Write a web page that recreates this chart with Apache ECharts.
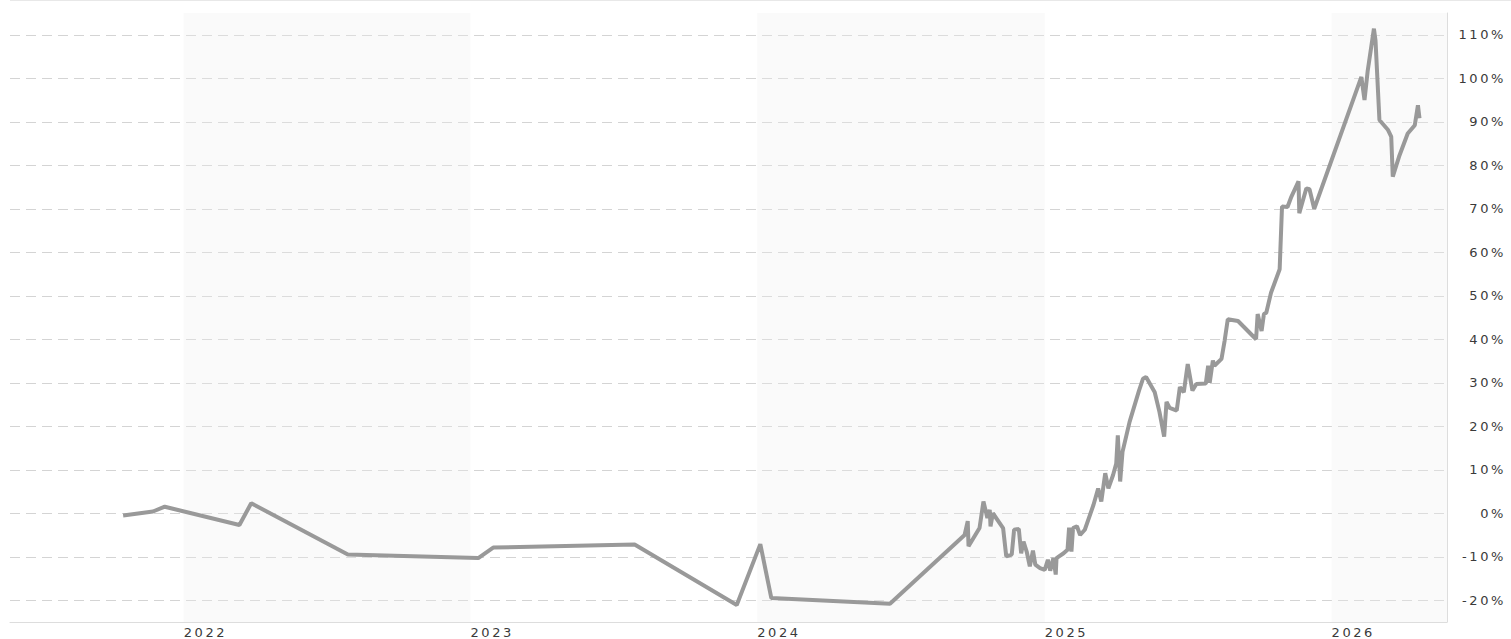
<!DOCTYPE html>
<html>
<head>
<meta charset="utf-8">
<script src="https://cdn.jsdelivr.net/npm/echarts@6.0.0/dist/echarts.min.js"></script>
<style>
    html, body { margin: 0; padding: 0; background: #fff; }
    #chartView { width: 1511px; height: 639px; }
    #chartView svg text { letter-spacing: 2.6px; }
</style>
</head>
<body>
<div id="chartView"></div>
<script>
    // 日期与涨幅(%)
    var theDates = [
        '2021-10-16', '2021-11-23', '2021-12-08', '2022-03-13', '2022-03-28', '2022-07-29',
        '2023-01-11', '2023-01-30', '2023-07-29', '2023-12-06', '2024-01-05', '2024-01-19',
        '2024-06-18', '2024-09-21', '2024-09-25', '2024-09-26', '2024-10-10', '2024-10-15',
        '2024-10-20', '2024-10-23', '2024-10-24', '2024-10-27', '2024-11-09', '2024-11-13',
        '2024-11-20', '2024-11-23', '2024-11-29', '2024-12-02', '2024-12-05', '2024-12-09',
        '2024-12-13', '2024-12-17', '2024-12-20', '2024-12-26', '2025-01-01', '2025-01-05',
        '2025-01-08', '2025-01-12', '2025-01-15', '2025-01-16', '2025-01-25', '2025-01-30',
        '2025-02-01', '2025-02-04', '2025-02-06', '2025-02-11', '2025-02-15', '2025-02-21',
        '2025-03-04', '2025-03-10', '2025-03-14', '2025-03-19', '2025-03-23', '2025-03-29',
        '2025-04-02', '2025-04-04', '2025-04-07', '2025-04-10', '2025-04-19', '2025-05-01',
        '2025-05-06', '2025-05-10', '2025-05-21', '2025-05-27', '2025-06-02', '2025-06-05',
        '2025-06-09', '2025-06-18', '2025-06-22', '2025-06-27', '2025-07-02', '2025-07-08',
        '2025-07-13', '2025-07-25', '2025-07-28', '2025-07-30', '2025-08-03', '2025-08-05',
        '2025-08-14', '2025-08-18', '2025-08-22', '2025-09-04', '2025-09-10', '2025-09-27',
        '2025-09-29', '2025-10-04', '2025-10-07', '2025-10-10', '2025-10-16', '2025-10-27',
        '2025-10-30', '2025-11-06', '2025-11-11', '2025-11-20', '2025-11-21', '2025-11-30',
        '2025-12-04', '2025-12-10', '2026-02-08', '2026-02-12', '2026-02-16', '2026-02-24',
        '2026-02-26', '2026-03-03', '2026-03-14', '2026-03-18', '2026-03-20', '2026-03-28',
        '2026-04-08', '2026-04-17', '2026-04-21', '2026-04-23'
    ];
    var theValues = [
        -0.5, 0.4, 1.5, -2.7, 2.3, -9.5,
        -10.3, -7.9, -7.2, -21.1, -7.1, -19.5,
        -20.8, -5.0, -1.8, -7.6, -3.4, 2.7,
        -1.1, 0.8, -3.0, 0.0, -3.4, -9.9,
        -9.5, -3.8, -3.6, -9.2, -6.5, -8.8,
        -12.2, -8.6, -11.8, -12.6, -13.0, -10.7,
        -13.2, -10.3, -14.1, -10.3, -9.2, -8.4,
        -3.3, -8.8, -3.4, -3.0, -5.0, -3.8,
        1.9, 5.7, 2.7, 9.2, 5.7, 8.8,
        11.4, 17.9, 7.3, 14.1, 21.0, 28.2,
        30.9, 31.3, 27.8, 23.3, 17.6, 25.6,
        24.2, 23.6, 29.0, 27.8, 34.3, 28.2,
        29.7, 29.8, 33.9, 30.0, 35.1, 33.9,
        35.5, 39.7, 44.6, 44.2, 43.1, 40.0,
        45.8, 41.9, 45.8, 46.1, 50.7, 56.1,
        70.5, 70.4, 72.8, 76.3, 69.0, 74.7,
        74.5, 70.0, 100.3, 95.0, 101.6, 111.4,
        108.7, 90.4, 88.1, 86.6, 77.4, 82.0,
        87.3, 89.2, 93.8, 90.8
    ];
    // 坐标轴刻度
    var theYTicks = [-20, -10, 0, 10, 20, 30, 40, 50, 60, 70, 80, 90, 100, 110];
    // 隔年底色
    var theBands = [
        ['2022-01-01', '2023-01-01'],
        ['2024-01-01', '2025-01-01'],
        ['2026-01-01', '2026-05-28']
    ];
    var theXMin = '2021-05-25';
    var theXMax = '2026-05-28';

    var chartView = echarts.init(document.getElementById('chartView'), null, {renderer: 'svg'});
    var theFont = 'DejaVu Sans';
    var theYear = 365 * 24 * 3600 * 1000;

    var option = {
        animation: false,
        backgroundColor: '#ffffff',
        grid: {
            left: 10,
            right: 64,
            top: 13,
            bottom: 15
        },
        graphic: [{
            type: 'line',
            shape: {x1: 10, y1: 0.5, x2: 1511, y2: 0.5},
            style: {stroke: '#e8e8e8', lineWidth: 1}
        }],
        xAxis: {
            type: 'time',
            min: theXMin,
            max: theXMax,
            minInterval: theYear,
            maxInterval: theYear * 1.01,
            axisLine: {show: true, onZero: false, lineStyle: {color: '#dddddd', width: 1}},
            axisTick: {show: false},
            splitLine: {show: false},
            axisLabel: {
                formatter: '{yyyy}',
                showMinLabel: false,
                showMaxLabel: false,
                align: 'left',
                margin: 4,
                color: '#3a3a3a',
                fontFamily: theFont,
                fontSize: 13
            }
        },
        yAxis: {
            type: 'value',
            position: 'right',
            min: -25,
            max: 115,
            axisLine: {show: true, lineStyle: {color: '#dddddd', width: 1}},
            axisTick: {show: false, customValues: theYTicks},
            splitLine: {
                show: true,
                lineStyle: {color: '#d4d4d4', type: [10, 6], width: 1}
            },
            axisLabel: {
                customValues: theYTicks,
                formatter: function (value) {
                    return value + '%';
                },
                align: 'right',
                margin: 59,
                color: '#3a3a3a',
                fontFamily: theFont,
                fontSize: 13
            }
        },
        series: [{
            type: 'line',
            data: theDates.map(function (d, i) {
                return [d, theValues[i]];
            }),
            symbol: 'none',
            lineStyle: {color: '#999999', width: 4},
            markArea: {
                silent: true,
                itemStyle: {color: 'rgba(238,238,238,0.3)'},
                data: theBands.map(function (b) {
                    return [{xAxis: b[0]}, {xAxis: b[1]}];
                })
            }
        }]
    };
    chartView.setOption(option);
</script>
</body>
</html>
